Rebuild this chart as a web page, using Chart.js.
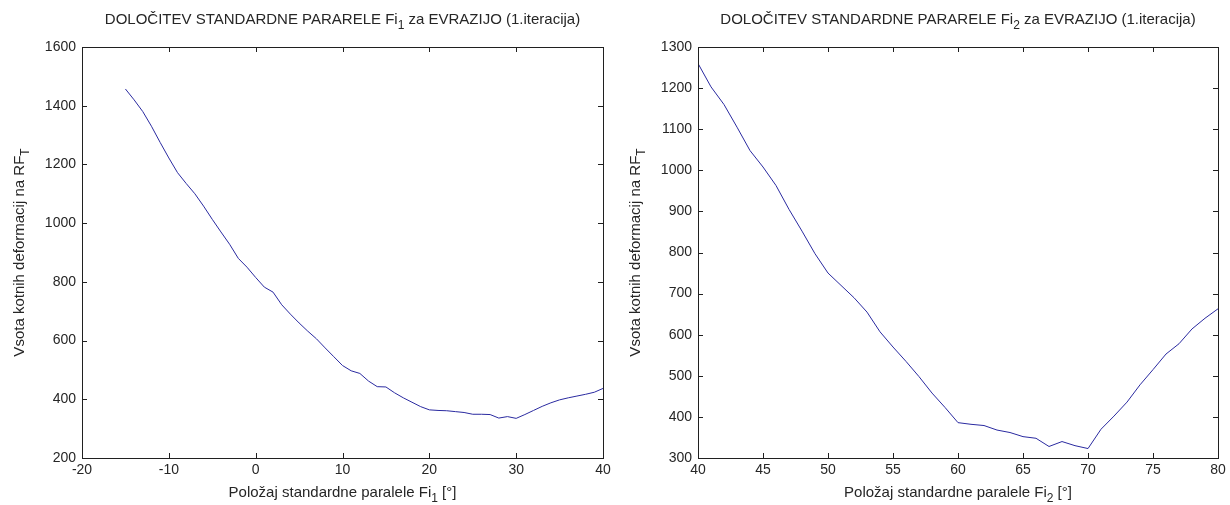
<!DOCTYPE html>
<html>
<head>
<meta charset="utf-8">
<script src="https://cdn.jsdelivr.net/npm/chart.js@4.4.1/dist/chart.umd.min.js"></script>
<style>
  body { margin: 0; background: #fff; width: 1230px; height: 505px; overflow: hidden; position: relative; }
  .box { position: absolute; top: 0; width: 615px; height: 505px; }
</style>
</head>
<body>
<div class="box" style="left:0"><canvas id="c1" width="615" height="505"></canvas></div>
<div class="box" style="left:615px"><canvas id="c2" width="615" height="505"></canvas></div>
<script>
// Fi1 (levi graf), vsota kotnih deformacij
const fi1 = [-15,-14,-13,-12,-11,-10,-9,-8,-7,-6,-5,-4,-3,-2,-1,0,1,2,3,4,5,6,7,8,9,10,
  11,12,13,14,15,16,17,18,19,20,21,22,23,24,25,26,27,28,29,30,31,32,33,34,35,36,37,38,39,40];
const vsota1 = [1457,1420,1380,1330,1275,1222,1172,1135,1100,1058,1013,970,928,880,850,815,782,765,722,690,
  660,632,606,575,545,515,497,488,462,443,442,422,405,390,375,364,362,361,358,355,
  349,349,348,336,341,335,348,362,376,388,398,405,411,417,424,437];

// Fi2 (desni graf)
const fi2 = [40,41,42,43,44,45,46,47,48,49,50,51,52,53,54,55,56,57,58,59,60,
  61,62,63,64,65,66,67,68,69,70,71,72,73,74,75,76,77,78,79,80];
const vsota2 = [1260,1203,1160,1105,1048,1008,963,905,852,797,750,720,690,655,607,570,535,498,458,423,386,
  382,379,368,362,352,348,328,340,330,323,370,402,436,478,515,553,578,614,640,663];

const title1 = [['DOLOČITEV STANDARDNE PARARELE Fi', 0], ['1', 1], [' za EVRAZIJO (1.iteracija)', 0]];
const title2 = [['DOLOČITEV STANDARDNE PARARELE Fi', 0], ['2', 1], [' za EVRAZIJO (1.iteracija)', 0]];
const xLabel1 = [['Položaj standardne paralele Fi', 0], ['1', 1], [' [°]', 0]];
const xLabel2 = [['Položaj standardne paralele Fi', 0], ['2', 1], [' [°]', 0]];
const yLabel = [['Vsota kotnih deformacij na RF', 0], ['T', 1]];

const FONT = "'Liberation Sans', Arial, sans-serif";
const TEXT = '#262626';
const AXIS = '#202020';
const LINE = '#2a2aa0';

function font(size) { return size + 'px ' + FONT; }

// text with subscripts, centered on x
function richText(ctx, parts, x, y, size) {
  let w = 0;
  parts.forEach(([t, sub]) => { ctx.font = font(sub ? size * 0.8 : size); w += ctx.measureText(t).width; });
  let cx = x - w / 2;
  ctx.textAlign = 'left';
  ctx.textBaseline = 'alphabetic';
  parts.forEach(([t, sub]) => {
    ctx.font = font(sub ? size * 0.8 : size);
    ctx.fillText(t, cx, sub ? y + size * 0.35 : y);
    cx += ctx.measureText(t).width;
  });
}

// matlab style box, inward ticks and labels
const matlabAxes = {
  id: 'matlabAxes',
  afterDraw(chart, args, opts) {
    const { ctx, chartArea: a, scales: { x, y } } = chart;
    ctx.save();
    ctx.strokeStyle = AXIS;
    ctx.lineWidth = 1;
    ctx.strokeRect(Math.round(a.left) + 0.5, Math.round(a.top) + 0.5,
      Math.round(a.right - a.left), Math.round(a.bottom - a.top));
    ctx.beginPath();
    x.ticks.forEach(t => {
      const px = Math.round(x.getPixelForValue(t.value)) + 0.5;
      ctx.moveTo(px, a.bottom); ctx.lineTo(px, a.bottom - 5);
      ctx.moveTo(px, a.top); ctx.lineTo(px, a.top + 5);
    });
    y.ticks.forEach(t => {
      const py = Math.round(y.getPixelForValue(t.value)) + 0.5;
      ctx.moveTo(a.left, py); ctx.lineTo(a.left + 5, py);
      ctx.moveTo(a.right, py); ctx.lineTo(a.right - 5, py);
    });
    ctx.stroke();

    ctx.fillStyle = TEXT;
    const cx = (a.left + a.right) / 2;
    richText(ctx, opts.title, cx, 24, 15);
    richText(ctx, opts.xLabel, cx, 497, 15);
    ctx.translate(a.left - 58, (a.top + a.bottom) / 2);
    ctx.rotate(-Math.PI / 2);
    richText(ctx, yLabel, 0, 0, 15);
    ctx.restore();
  }
};

function makeChart(id, xs, ys, xr, yr, yWidth, title, xLabel) {
  return new Chart(document.getElementById(id), {
    type: 'line',
    data: {
      datasets: [{
        data: xs.map((v, i) => ({ x: v, y: ys[i] })),
        borderColor: LINE,
        borderWidth: 1,
        pointRadius: 0,
        tension: 0,
        fill: false
      }]
    },
    options: {
      responsive: false,
      animation: false,
      devicePixelRatio: 1,
      layout: { padding: { top: 47, right: 12, left: 0, bottom: 0 } },
      plugins: {
        legend: { display: false },
        tooltip: { enabled: false },
        matlabAxes: { title, xLabel }
      },
      scales: {
        x: {
          type: 'linear', min: xr[0], max: xr[1],
          grid: { display: false, drawTicks: false },
          border: { display: false },
          ticks: { stepSize: xr[2], autoSkip: false, maxRotation: 0, padding: 4,
            color: TEXT, font: { family: FONT, size: 14 }, callback: v => String(v) },
          afterFit: s => { s.height = 47; }
        },
        y: {
          min: yr[0], max: yr[1],
          grid: { display: false, drawTicks: false },
          border: { display: false },
          ticks: { stepSize: yr[2], autoSkip: false, padding: 6,
            color: TEXT, font: { family: FONT, size: 14 }, callback: v => String(v) },
          afterFit: s => { s.width = yWidth; }
        }
      }
    },
    plugins: [matlabAxes]
  });
}

makeChart('c1', fi1, vsota1, [-20, 40, 10], [200, 1600, 200], 82, title1, xLabel1);
makeChart('c2', fi2, vsota2, [40, 80, 5], [300, 1300, 100], 83, title2, xLabel2);
</script>
</body>
</html>
